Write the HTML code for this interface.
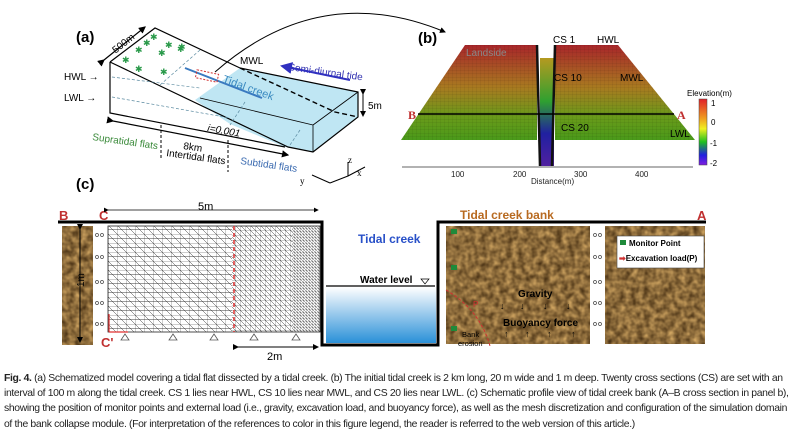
<!DOCTYPE html>
<html><head><meta charset="utf-8"><style>
body{margin:0;width:798px;height:431px;background:#fff;overflow:hidden;font-family:"Liberation Sans",sans-serif}
.cap{position:absolute;left:4px;top:371px;width:792px;font-family:"Liberation Sans Narrow","Liberation Sans",sans-serif;font-size:10.4px;line-height:15.2px;color:#222;letter-spacing:-0.35px}
</style></head><body>
<svg width="798" height="431" style="position:absolute;left:0;top:0" font-family="Liberation Sans, sans-serif">
<defs>
<filter id="soil" x="0" y="0" width="100%" height="100%" color-interpolation-filters="sRGB">
<feTurbulence type="fractalNoise" baseFrequency="0.16" numOctaves="2" seed="3"/>
<feColorMatrix type="matrix" values="0.7 0 0 0 0.2  0.6 0 0 0 0.12  0.4 0 0 0 0.03  0 0 0 0 1"/>
</filter>
<linearGradient id="surf" x1="0" y1="0" x2="0" y2="1">
<stop offset="0" stop-color="#a8262a"/><stop offset="0.45" stop-color="#a87a20"/><stop offset="0.75" stop-color="#6a9a1a"/><stop offset="1" stop-color="#4a9a1a"/>
</linearGradient>
<linearGradient id="creek" x1="0" y1="0" x2="0" y2="1">
<stop offset="0" stop-color="#b59a20"/><stop offset="0.4" stop-color="#2fa030"/><stop offset="0.7" stop-color="#2020a0"/><stop offset="1" stop-color="#5020a0"/>
</linearGradient>
<linearGradient id="cbar" x1="0" y1="0" x2="0" y2="1">
<stop offset="0" stop-color="#e0202a"/><stop offset="0.3" stop-color="#f0a020"/><stop offset="0.45" stop-color="#f0f020"/><stop offset="0.65" stop-color="#20c020"/><stop offset="0.85" stop-color="#2020e0"/><stop offset="1" stop-color="#8020e0"/>
</linearGradient>
<linearGradient id="water" x1="0" y1="0" x2="0" y2="1">
<stop offset="0" stop-color="#ffffff"/><stop offset="1" stop-color="#2a90d8"/>
</linearGradient>
<pattern id="grid" width="4" height="3.5" patternUnits="userSpaceOnUse"><path d="M0 0H4M0 0V3.5" stroke="#000" stroke-opacity="0.25" stroke-width="0.4" fill="none"/></pattern>
<pattern id="mesh1" width="9" height="9" patternUnits="userSpaceOnUse"><path d="M0 0H9M0 0V9M0 0L9 9M0 4.5H9" stroke="#222" stroke-width="0.45" fill="none"/></pattern>
<pattern id="mesh2" width="5" height="5" patternUnits="userSpaceOnUse"><path d="M0 0H5M0 0V5M0 0L5 5" stroke="#222" stroke-width="0.45" fill="none"/></pattern>
<pattern id="mesh3" width="3" height="3" patternUnits="userSpaceOnUse"><path d="M0 0H3M0 0V3M0 0L3 3" stroke="#222" stroke-width="0.4" fill="none"/></pattern>
<marker id="ah" markerWidth="6" markerHeight="6" refX="5" refY="3" orient="auto"><path d="M0 0L6 3L0 6z" fill="#000"/></marker>
<marker id="ahb" markerWidth="6" markerHeight="6" refX="5" refY="3" orient="auto"><path d="M0 0L6 3L0 6z" fill="#3030c0"/></marker>
</defs>

<!-- Panel a -->
<text x="76" y="42" font-size="15" font-weight="bold">(a)</text>
<path d="M195 100 L240 68 L358 92 L358 117 L313 152 L285 147 L230 124 Z" fill="#bfe6f3"/>
<path d="M110 62 L155 28 L240 68" fill="none" stroke="#000" stroke-width="1.2"/>
<path d="M110 62 L110 113 L285 147" fill="none" stroke="#000" stroke-width="1.2"/>
<path d="M110 62 L288 147 L313 152 L358 117 L358 92 L240 68" fill="none" stroke="#000" stroke-width="1.2"/>
<path d="M313 125 L313 152 M313 125 L358 92 M200 98 L313 125" stroke="#000" stroke-width="0.8" fill="none"/>
<path d="M240 68 L335 112 L358 117" stroke="#000" stroke-width="1.4" stroke-dasharray="5 3" fill="none"/>
<path d="M185 68 L262 98" stroke="#3a7ac0" stroke-width="2"/>
<path d="M112 77 L200 88 M112 97 L230 118 M200 50 L160 85 M245 102 L230 125 M300 130 L290 145" stroke="#5a8aa0" stroke-width="0.7" stroke-dasharray="3 2"/>
<rect x="196" y="72" width="22" height="8" fill="none" stroke="#d03030" stroke-dasharray="2 1.5" transform="rotate(12 207 76)"/>
<text x="222" y="82" font-size="11" fill="#3a8ac0" transform="rotate(20 222 82)">Tidal creek</text>
<text x="240" y="64" font-size="10">MWL</text>
<text x="288" y="70" font-size="10" fill="#3030b0" transform="rotate(8 288 70)">Semi-diurnal tide</text>
<path d="M350 80 L282 66" stroke="#3030c0" stroke-width="2" marker-end="url(#ahb)"/>
<path d="M363 94 V116" stroke="#000" marker-end="url(#ah)" marker-start="url(#ah)"/>
<text x="368" y="109" font-size="10">5m</text>
<path d="M104 60 L145 27" stroke="#000" stroke-width="1.2" marker-end="url(#ah)" marker-start="url(#ah)"/>
<text x="108" y="48" font-size="10" transform="rotate(-38 120 40)">500m</text>
<text x="64" y="80" font-size="10">HWL →</text>
<text x="64" y="101" font-size="10">LWL →</text>
<path d="M113 121 L288 155" stroke="#000" stroke-width="1.2" marker-end="url(#ah)" marker-start="url(#ah)"/>
<text x="207" y="131" font-size="10" font-style="italic" transform="rotate(10 207 131)">i=0.001</text>
<path d="M161 125 V160 M228 140 V172" stroke="#000" stroke-dasharray="3 2"/>
<text x="92" y="140" font-size="10" fill="#3a8a3a" transform="rotate(8 92 140)">Supratidal flats</text>
<text x="183" y="149" font-size="10" transform="rotate(8 183 149)">8km</text>
<text x="166" y="156" font-size="10" transform="rotate(8 166 156)">Intertidal flats</text>
<text x="240" y="164" font-size="10" fill="#3a6ab0" transform="rotate(8 240 164)">Subtidal flats</text>
<g fill="#2a9a4a" font-size="9"><text x="135" y="53">✱</text><text x="150" y="40">✱</text><text x="122" y="63">✱</text><text x="158" y="56">✱</text><text x="165" y="48">✱</text><text x="177" y="52">✱</text><text x="135" y="72">✱</text><text x="160" y="75">✱</text><text x="178" y="50">✱</text><text x="143" y="46">✱</text></g>
<path d="M330 183 L348 176 V162 M348 176 L365 167 M330 183 L312 175" stroke="#000" fill="none"/>
<text x="348" y="163" font-size="9" font-family="Liberation Serif">z</text><text x="357" y="176" font-size="9" font-family="Liberation Serif">x</text><text x="300" y="184" font-size="9" font-family="Liberation Serif">y</text>
<text x="76" y="189" font-size="15" font-weight="bold">(c)</text>
<path d="M215 72 Q320 -20 445 32" fill="none" stroke="#000" stroke-width="1" marker-end="url(#ah)"/>

<!-- Panel b -->
<text x="418" y="43" font-size="15" font-weight="bold">(b)</text>
<path d="M465 45 L537 45 L537 140 L401 140 Z" fill="url(#surf)"/>
<path d="M555 45 L618 45 L695 140 L555 140 Z" fill="url(#surf)"/>
<path d="M465 45 L537 45 L537 140 L401 140 Z M555 45 L618 45 L695 140 L555 140 Z" fill="url(#grid)"/>
<rect x="540" y="58" width="14" height="108" fill="url(#creek)"/>
<path d="M537 45 L540 166 M555 45 L552 166" stroke="#111" stroke-width="2.5"/>
<path d="M418 114 L674 114" stroke="#000" stroke-width="1.5"/>
<text x="408" y="119" font-size="12" font-weight="bold" fill="#c03030" font-family="Liberation Serif">B</text>
<text x="677" y="119" font-size="12" font-weight="bold" fill="#c03030" font-family="Liberation Serif">A</text>
<text x="466" y="56" font-size="10" fill="#888">Landside</text>
<text x="553" y="43" font-size="10">CS 1</text><text x="597" y="43" font-size="10">HWL</text>
<text x="554" y="81" font-size="10">CS 10</text><text x="620" y="81" font-size="10">MWL</text>
<text x="561" y="131" font-size="10">CS 20</text><text x="670" y="137" font-size="10">LWL</text>
<path d="M402 167 H693" stroke="#333" stroke-width="0.8"/>
<g font-size="8" fill="#222"><text x="451" y="177">100</text><text x="513" y="177">200</text><text x="574" y="177">300</text><text x="635" y="177">400</text><text x="531" y="184">Distance(m)</text></g>
<text x="687" y="96" font-size="8">Elevation(m)</text>
<rect x="699" y="99" width="8" height="66" fill="url(#cbar)" stroke="#444" stroke-width="0.5"/>
<g font-size="8"><text x="711" y="106">1</text><text x="711" y="125">0</text><text x="710" y="146">-1</text><text x="710" y="166">-2</text></g>

<!-- Panel c -->
<text x="59" y="220" font-size="13" font-weight="bold" fill="#c03030">B</text>
<text x="99" y="220" font-size="13" font-weight="bold" fill="#c03030">C</text>
<path d="M108 210 L318 210" stroke="#000" stroke-width="0.8" marker-end="url(#ah)" marker-start="url(#ah)"/>
<text x="198" y="210" font-size="11">5m</text>
<path d="M58 222 H322 V345 H438 V222 H706" fill="none" stroke="#000" stroke-width="3"/>
<rect x="62" y="226" width="31" height="119" filter="url(#soil)"/>
<path d="M80 229 V342" stroke="#000" marker-end="url(#ah)" marker-start="url(#ah)"/>
<text x="83" y="294" font-size="10" transform="rotate(-90 80 290)">1m</text>
<rect x="108" y="226" width="124" height="106" fill="url(#mesh1)"/>
<rect x="232" y="226" width="60" height="106" fill="url(#mesh2)"/>
<rect x="292" y="226" width="28" height="106" fill="url(#mesh3)"/>
<rect x="108" y="226" width="212" height="106" fill="none" stroke="#222" stroke-width="0.8"/>
<path d="M234 226 V332" stroke="#e03030" stroke-width="1.5" stroke-dasharray="4 3"/>
<g fill="#fff" stroke="#444" stroke-width="0.7"><circle cx="97" cy="235" r="1.5"/><circle cx="102" cy="235" r="1.5"/><circle cx="97" cy="257" r="1.5"/><circle cx="102" cy="257" r="1.5"/><circle cx="97" cy="282" r="1.5"/><circle cx="102" cy="282" r="1.5"/><circle cx="97" cy="303" r="1.5"/><circle cx="102" cy="303" r="1.5"/><circle cx="97" cy="324" r="1.5"/><circle cx="102" cy="324" r="1.5"/>
<circle cx="595" cy="235" r="1.5"/><circle cx="600" cy="235" r="1.5"/><circle cx="595" cy="257" r="1.5"/><circle cx="600" cy="257" r="1.5"/><circle cx="595" cy="282" r="1.5"/><circle cx="600" cy="282" r="1.5"/><circle cx="595" cy="303" r="1.5"/><circle cx="600" cy="303" r="1.5"/><circle cx="595" cy="324" r="1.5"/><circle cx="600" cy="324" r="1.5"/></g>
<path d="M109 332 V314 M109 332 H128" stroke="#e03030" stroke-width="1.2"/>
<text x="101" y="347" font-size="13" font-weight="bold" fill="#c03030">C'</text>
<g fill="none" stroke="#555" stroke-width="0.8"><path d="M125 334 l-4 6 h8 z M173 334 l-4 6 h8 z M214 334 l-4 6 h8 z M254 334 l-4 6 h8 z M296 334 l-4 6 h8 z"/></g>
<path d="M238 347 H318" stroke="#000" marker-end="url(#ah)" marker-start="url(#ah)"/>
<text x="267" y="360" font-size="11">2m</text>
<text x="358" y="243" font-size="12" font-weight="bold" fill="#2850c8">Tidal creek</text>
<text x="360" y="283" font-size="10" font-weight="bold">Water level</text>
<path d="M421 279 h8 l-4 5 z" fill="none" stroke="#000" stroke-width="0.7"/>
<path d="M326 286 H435" stroke="#000" stroke-width="1.3"/>
<rect x="326" y="287" width="110" height="56" fill="url(#water)"/>
<rect x="446" y="226" width="144" height="118" filter="url(#soil)"/>
<rect x="605" y="226" width="100" height="118" filter="url(#soil)"/>
<text x="460" y="219" font-size="12" font-weight="bold" fill="#b86a20">Tidal creek bank</text>
<text x="697" y="220" font-size="13" font-weight="bold" fill="#c03030">A</text>
<g fill="#1e8a3a"><rect x="451" y="229" width="6" height="5"/><rect x="451" y="265" width="6" height="5"/><rect x="451" y="326" width="6" height="5"/></g>
<rect x="617" y="236" width="87" height="32" fill="#fff" stroke="#444" stroke-width="0.6"/>
<rect x="620" y="240" width="6" height="5" fill="#1e8a3a"/>
<text x="629" y="246" font-size="8" font-weight="bold">Monitor Point</text>
<text x="619" y="261" font-size="8" font-weight="bold"><tspan fill="#d03030">➡</tspan>Excavation load(P)</text>
<text x="518" y="297" font-size="10" font-weight="bold">Gravity</text>
<g font-size="9" font-weight="bold"><text x="500" y="309">↓</text><text x="520" y="309">↓</text><text x="543" y="309">↓</text><text x="566" y="309">↓</text>
<text x="504" y="337">↑</text><text x="525" y="337">↑</text><text x="547" y="337">↑</text><text x="571" y="337">↑</text></g>
<text x="503" y="326" font-size="10" font-weight="bold">Buoyancy force</text>
<path d="M446 290 Q480 310 490 346" fill="none" stroke="#d03030" stroke-dasharray="3 2"/>
<text x="462" y="337" font-size="7.5">Bank</text><text x="458" y="346" font-size="7.5">erosion</text>
<text x="473" y="307" font-size="8" fill="#d03030">P</text>
</svg>
<div class="cap"><b>Fig. 4.</b> (a) Schematized model covering a tidal flat dissected by a tidal creek. (b) The initial tidal creek is 2 km long, 20 m wide and 1 m deep. Twenty cross sections (CS) are set with an interval of 100 m along the tidal creek. CS 1 lies near HWL, CS 10 lies near MWL, and CS 20 lies near LWL. (c) Schematic profile view of tidal creek bank (A–B cross section in panel b), showing the position of monitor points and external load (i.e., gravity, excavation load, and buoyancy force), as well as the mesh discretization and configuration of the simulation domain of the bank collapse module. (For interpretation of the references to color in this figure legend, the reader is referred to the web version of this article.)</div>
</body></html>
